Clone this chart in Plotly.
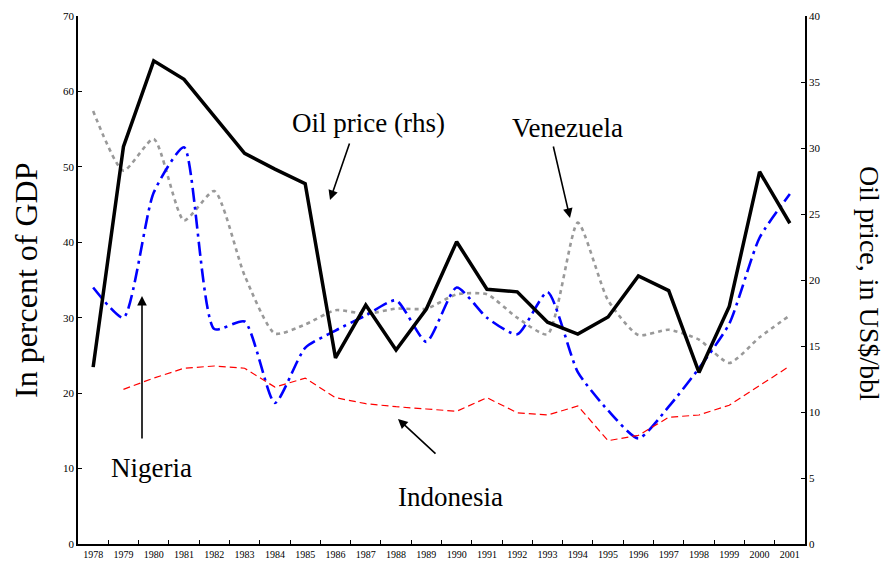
import plotly.graph_objects as go

years = [str(y) for y in range(1978, 2002)]

# Oil price, US$/bbl (right axis)
oil_price = [13.4, 30.1, 36.6, 35.2, 32.4, 29.6, 28.4, 27.3, 14.1, 18.1, 14.7, 17.8,
             22.9, 19.3, 19.1, 16.8, 15.9, 17.2, 20.3, 19.2, 13.0, 18.0, 28.2, 24.3]

# percent of GDP (left axis)
nigeria = [34.0, 30.0, 46.6, 52.6, 28.5, 29.5, 18.7, 26.0, 28.3, 30.3, 32.3, 26.8,
           34.0, 30.0, 27.8, 33.4, 22.8, 17.7, 14.0, 18.2, 23.3, 29.2, 40.6, 46.4]
venezuela = [57.4, 49.5, 53.7, 42.9, 46.8, 35.6, 27.9, 29.1, 31.0, 30.5, 31.2, 31.2,
             33.1, 33.1, 30.0, 27.8, 42.6, 32.3, 27.7, 28.4, 27.1, 24.0, 27.4, 30.3]
indonesia = [None, 20.5, 22.0, 23.3, 23.6, 23.3, 20.8, 22.0, 19.4, 18.6, 18.2, 17.9,
             17.6, 19.4, 17.4, 17.1, 18.3, 13.7, 14.4, 16.8, 17.1, 18.4, 21.0, 23.6]

SERIF = "Liberation Serif, Times New Roman, serif"

# plot area in pixels (for placing the callouts)
L, R, T, B = 78, 805, 16, 544


def px(x, y):
    return (x - L) / (R - L), (B - y) / (B - T)


fig = go.Figure()

fig.add_trace(go.Scatter(x=years, y=venezuela, mode="lines", name="Venezuela",
                         line=dict(color="#999999", width=2.6, dash="4px,4px",
                                   shape="spline", smoothing=0.6)))
fig.add_trace(go.Scatter(x=years, y=nigeria, mode="lines", name="Nigeria",
                         line=dict(color="#0000ff", width=2.6, dash="14px,5px,3px,5px",
                                   shape="spline", smoothing=0.6)))
fig.add_trace(go.Scatter(x=years, y=indonesia, mode="lines", name="Indonesia",
                         line=dict(color="#ff0000", width=1.2, dash="7px,4px")))
fig.add_trace(go.Scatter(x=years, y=oil_price, mode="lines", name="Oil price",
                         yaxis="y2", line=dict(color="black", width=3.5)))

axis_common = dict(showline=True, linecolor="black", linewidth=1.5, ticks="inside",
                   ticklen=4, tickcolor="black", showgrid=False, zeroline=False,
                   automargin=False,
                   tickfont=dict(family=SERIF, size=11, color="black"))

fig.update_layout(
    width=884, height=566,
    margin=dict(l=L, r=884 - R, t=T, b=566 - B, autoexpand=False),
    plot_bgcolor="white", paper_bgcolor="white",
    showlegend=False,
    xaxis=dict(type="category", range=[-0.5, 23.5], tickson="boundaries", tickangle=0,
               **axis_common),
    yaxis=dict(range=[0, 70], dtick=10, **axis_common),
    yaxis2=dict(range=[0, 40], dtick=5, overlaying="y", side="right", **axis_common),
)
fig.update_xaxes(tickfont_size=10)


def note(text, x, y, size, angle=0):
    xx, yy = px(x, y)
    fig.add_annotation(x=xx, y=yy, xref="paper", yref="paper", text=text,
                       xanchor="center", yanchor="middle", textangle=angle,
                       showarrow=False, font=dict(family=SERIF, size=size, color="black"))


# axis titles
note("In percent of GDP", 26, 281, 32, -90)
note("Oil price, in US$/bbl", 869, 283, 28, 90)

# callout labels
note("Oil price (rhs)", 368, 123, 27)
note("Venezuela", 567, 128, 27)
note("Nigeria", 151, 468, 27)
note("Indonesia", 450, 497, 27)

# arrows: head position and tail offset
arrows = [(330, 200, 20, -58), (570, 218, -17, -73), (142, 296, 0, 144), (398, 419, 39, 36)]
for hx, hy, ax, ay in arrows:
    xx, yy = px(hx, hy)
    fig.add_annotation(x=xx, y=yy, xref="paper", yref="paper", text="", showarrow=True,
                       ax=ax, ay=ay, arrowhead=2, arrowsize=1.2, arrowwidth=1.6, arrowcolor="black")

fig.write_html("out.html", config={"displayModeBar": False},
               post_script="document.body.style.margin='0';")
